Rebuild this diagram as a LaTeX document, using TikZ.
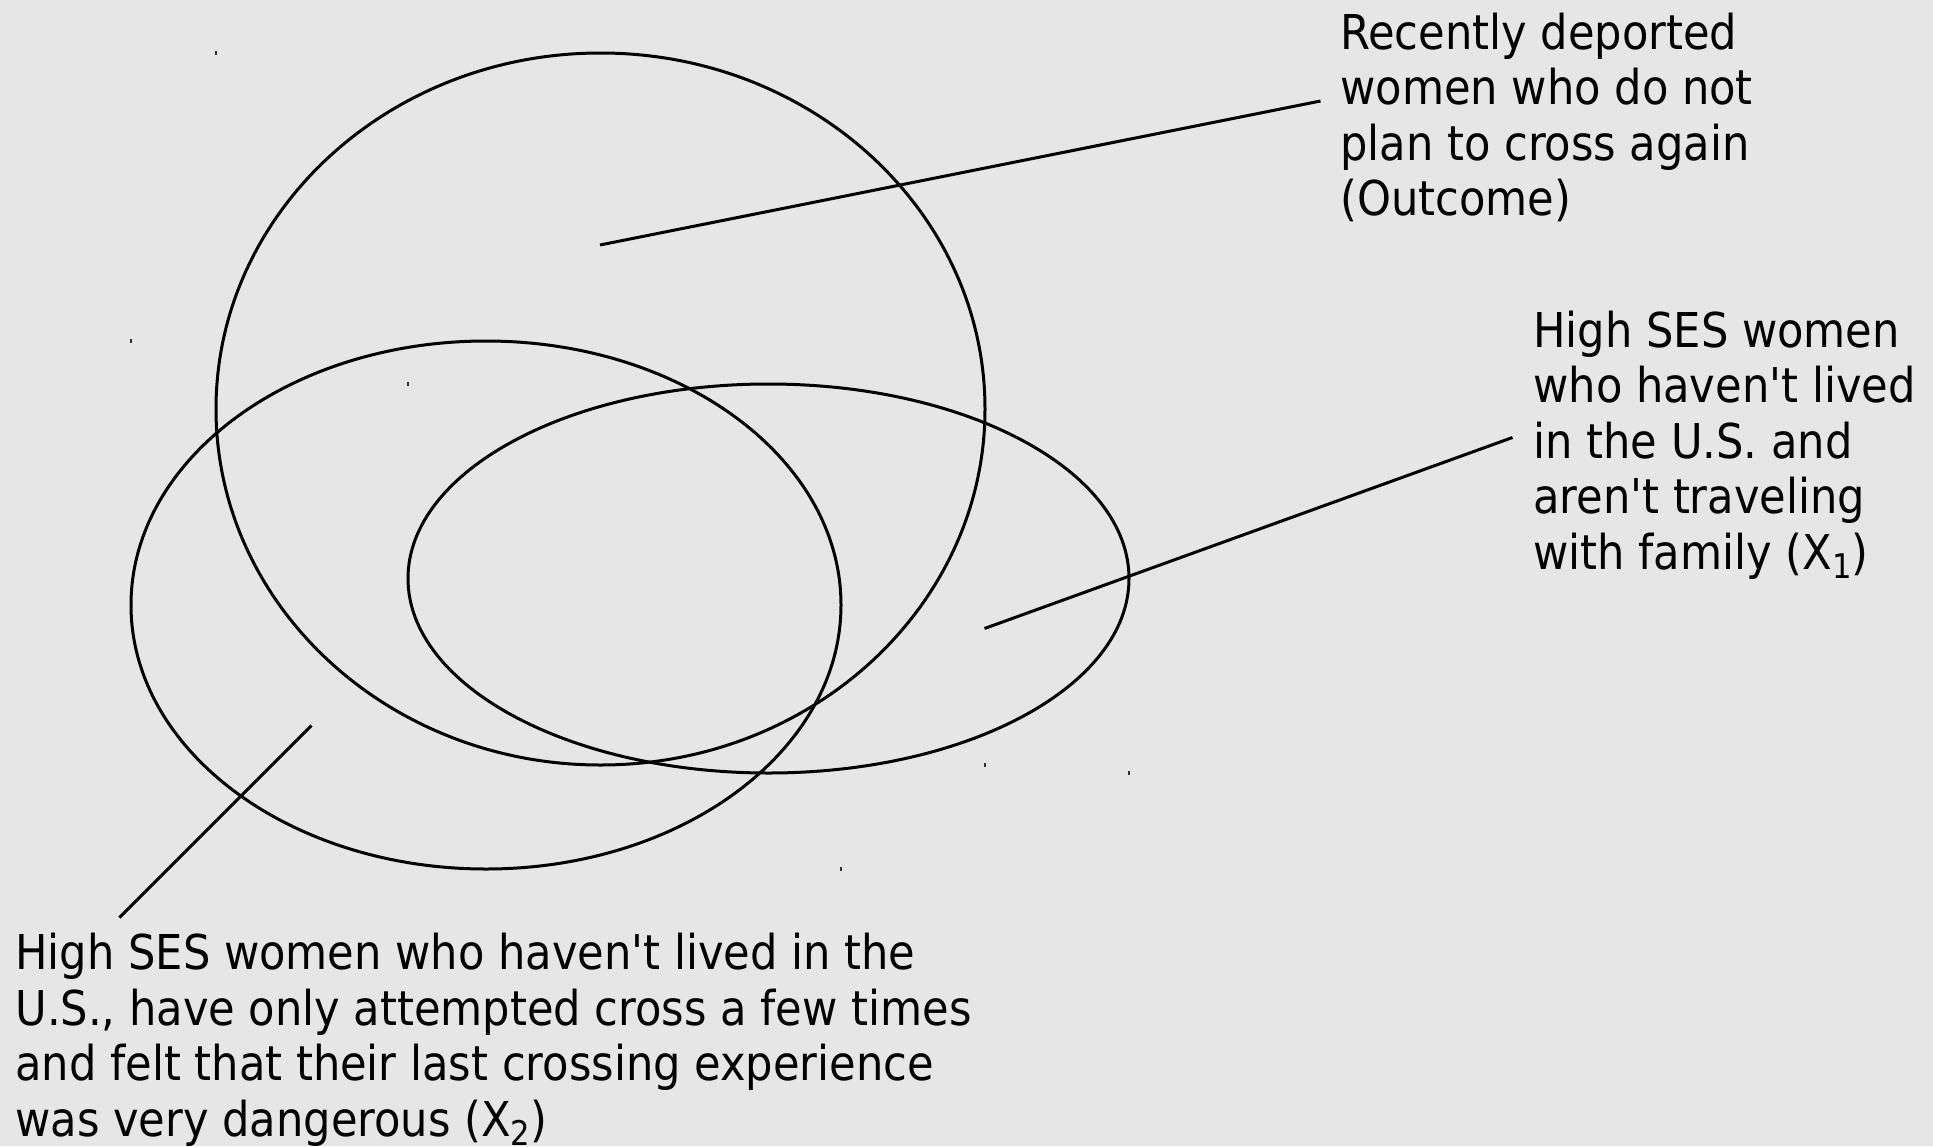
\documentclass[tikz,border=0pt]{standalone}
\usepackage{fontspec}
\setmainfont{DejaVu Sans Condensed}
\definecolor{bg}{HTML}{E6E6E6}
\newcommand{\apo}{\textquotesingle}
\newcommand{\subidx}[1]{\raisebox{-4.5pt}{\fontsize{17pt}{17pt}\selectfont #1}}
\begin{document}
\begin{tikzpicture}[x=0.5pt,y=-0.5pt,
  shape line/.style={line width=1.5pt,black},
  conn/.style={line width=1.5pt,black},
  tick/.style={line width=0.7pt,black!80},
  label/.style={anchor=base west,inner sep=0pt,align=left,
    font=\fontsize{24pt}{27.75pt}\selectfont}]
\fill[bg] (0,0) rectangle (1933,1146);
\useasboundingbox (0,0) rectangle (1933,1146);
% ellipses
\draw[shape line] (600.5,409) ellipse [x radius=384.5, y radius=356];
\draw[shape line] (486,605) ellipse [x radius=355, y radius=264];
\draw[shape line] (768.5,578.5) ellipse [x radius=360.5, y radius=194.5];
% bounding-box corner ticks
\foreach \px/\py in {216/53,985/765,131/341,841/869,408/384,1129/773}
  \draw[tick] (\px,\py-2) -- (\px,\py+2);
% labels (base anchor = baseline of last line)
\node[label] (outcome) at (1340,215.5) {Recently deported\\women who do not\\plan to cross again\\(Outcome)};
\node[label] (xone) at (1533,569) {High SES women\\who haven\apo t lived\\in the U.S. and\\aren\apo t traveling\\with family (X\subidx{1})};
\node[label] (xtwo) at (15,1136) {High SES women who haven\apo t lived in the\\U.S., have only attempted cross a few times\\and felt that their last crossing experience\\was very dangerous (X\subidx{2})};
% connector end points
\coordinate (a1) at (600,245);
\coordinate (a2) at (1320.5,101);
\coordinate (b1) at (984.5,628.5);
\coordinate (b2) at (1512.5,437.5);
\coordinate (c1) at (311.5,725.5);
\coordinate (c2) at (119.5,917.5);
\draw[conn] (a1) -- (a2);
\draw[conn] (b1) -- (b2);
\draw[conn] (c1) -- (c2);
\end{tikzpicture}
\end{document}
